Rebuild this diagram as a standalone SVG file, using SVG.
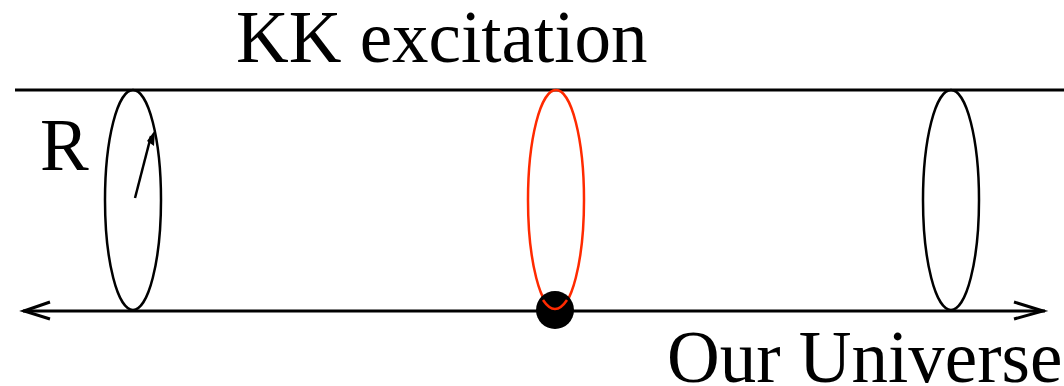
<svg xmlns="http://www.w3.org/2000/svg" width="1064" height="386" viewBox="0 0 1064 386">
<style>
.lbl{font-family:"Liberation Serif","Times New Roman",serif;font-size:73px;fill:#000}
.ln{stroke:#000;stroke-width:3;fill:none}
.ell{stroke:#000;stroke-width:2.5;fill:none}
</style>
<rect width="1064" height="386" fill="#fff"/>
<g id="connectors">
<line class="ln" x1="15" y1="90" x2="1064" y2="90"/>
<line class="ln" x1="23" y1="311" x2="1045" y2="311"/>
<polyline class="ln" points="50,302 24,311 50,319"/>
<polyline class="ln" points="1014,302 1043,311 1014,319"/>
</g>
<g id="ellipse-left">
<ellipse class="ell" cx="133" cy="200" rx="28" ry="110"/>
<line x1="135" y1="198" x2="151" y2="136" stroke="#000" stroke-width="2.5"/>
<polygon points="147,141 155,130 154,146" fill="#000"/>
</g>
<g id="ellipse-red">
<ellipse cx="556" cy="200" rx="28" ry="110" fill="none" stroke="#ff2a00" stroke-width="2.5"/>
<circle cx="555" cy="310" r="19" fill="#000"/>
<path d="M 543 300 Q 555 318 567 300" fill="none" stroke="#ff2a00" stroke-width="2.5"/>
</g>
<g id="ellipse-right">
<ellipse class="ell" cx="951" cy="200" rx="28" ry="110"/>
</g>
<g id="labels">
<text class="lbl" x="236" y="62">KK excitation</text>
<text class="lbl" x="40" y="170">R</text>
<text class="lbl" x="667" y="382">Our Universe</text>
</g>
</svg>
